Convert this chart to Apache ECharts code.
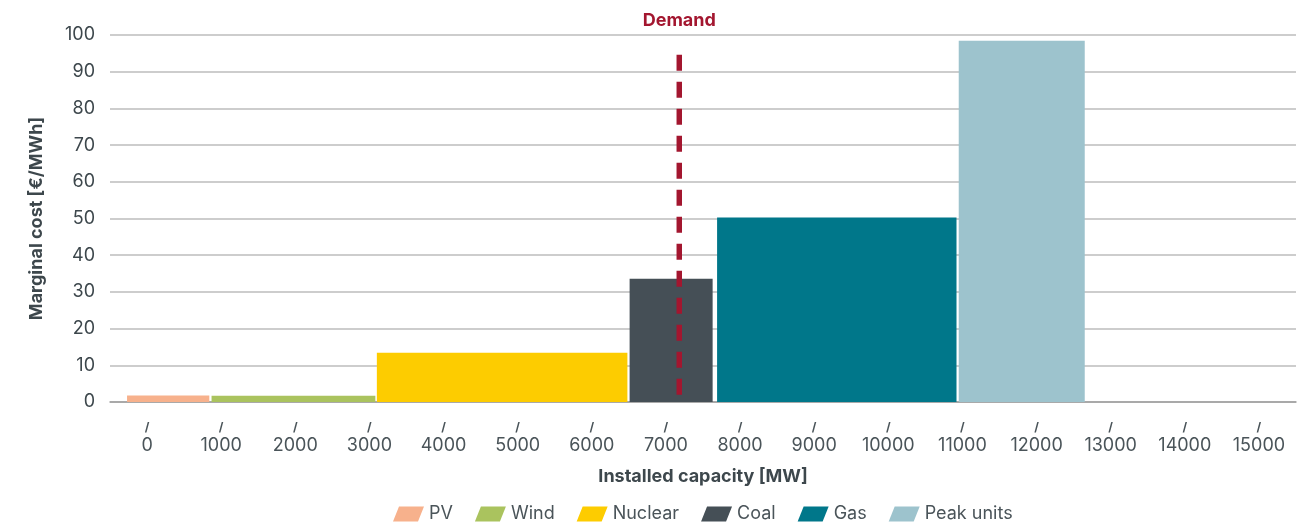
<!DOCTYPE html>
<html>
<head>
<meta charset="utf-8">
<script src="https://cdn.jsdelivr.net/npm/echarts@6/dist/echarts.min.js"></script>
<style>
html,body{margin:0;padding:0;background:#fff;}
#chart{width:1312px;height:525px;}
</style>
</head>
<body>
<div id="chart"></div>
<script>
// Data
const technologies = ['PV', 'Wind', 'Nuclear', 'Coal', 'Gas', 'Peak units'];
const blockStart = [-270, 870, 3100, 6510, 7690, 10950];   // MW (left edge as drawn)
const blockEnd   = [840, 3080, 6480, 7630, 10920, 12650];  // MW (right edge as drawn)
const marginalCost = [1.8, 1.7, 13.4, 33.6, 50.3, 98.4];   // €/MWh
const demandMW = 7180;
const demandTop = 94.6;
const demandBottom = 0.6;
const xTickLabels = ['0','1000','2000','3000','4000','5000','6000','7000','8000','9000','10000','11000','12000','13000','14000','15000'];

const colors = ['#f7b18c', '#aac35e', '#fdcc00', '#454f56', '#00778a', '#9dc3cd'];
const textColor = '#4a5459';
const titleColor = '#3d474c';
const demandColor = '#a3162f';
const FONT = 'Inter';

const chart = echarts.init(document.getElementById('chart'), null, {renderer: 'canvas'});

const blockSeries = technologies.map((name, i) => ({
  name: name,
  type: 'custom',
  xAxisIndex: 0,
  yAxisIndex: 0,
  encode: {x: [0, 1], y: 2},
  data: [[blockStart[i], blockEnd[i], marginalCost[i]]],
  itemStyle: {color: colors[i]},
  renderItem: function (params, api) {
    const p0 = api.coord([api.value(0), api.value(2)]);
    const p1 = api.coord([api.value(1), 0]);
    return {
      type: 'rect',
      shape: {x: p0[0], y: p0[1], width: p1[0] - p0[0], height: p1[1] - p0[1]},
      style: {fill: colors[i]}
    };
  },
  z: 3
}));

const option = {
  animation: false,
  textStyle: {fontFamily: FONT},
  grid: {left: 110, right: 16, top: 35, bottom: 123, containLabel: false},
  legend: {
    data: technologies,
    top: 500,
    left: 388,
    padding: [5, 5, 5, 5],
    icon: 'path://M6,0 L31,0 L25,15 L0,15 Z',
    itemWidth: 31,
    itemHeight: 15,
    itemGap: 22,
    textStyle: {fontFamily: FONT, fontSize: 18, color: textColor, padding: [0, 0, 0, 0]}
  },
  xAxis: [
    {
      type: 'value', min: -500, max: 15500, show: false,
      splitLine: {show: false}
    },
    {
      type: 'category',
      data: xTickLabels,
      boundaryGap: true,
      position: 'bottom',
      axisLine: {show: true, lineStyle: {color: '#9d9d9d', width: 1.5}},
      axisTick: {show: false},
      axisLabel: {
        margin: 17,
        interval: 0,
        formatter: v => '{s|/}\n{v|' + v + '}',
        rich: {
          s: {fontFamily: FONT, fontSize: 12, fontWeight: 'bold', color: textColor, lineHeight: 16, align: 'center'},
          v: {fontFamily: FONT, fontSize: 18, color: textColor, lineHeight: 22, align: 'center'}
        }
      },
      name: 'Installed capacity [MW]',
      nameLocation: 'middle',
      nameGap: 66,
      nameTextStyle: {fontFamily: FONT, fontSize: 18, fontWeight: 'bold', color: titleColor}
    }
  ],
  yAxis: {
    type: 'value', min: 0, max: 100, interval: 10,
    axisLine: {show: false},
    axisTick: {show: false},
    splitLine: {lineStyle: {color: '#bcbcbc', width: 1.5}},
    axisLabel: {margin: 15, fontFamily: FONT, fontSize: 18, color: titleColor},
    name: 'Marginal cost [€/MWh]',
    nameLocation: 'middle',
    nameGap: 64,
    nameRotate: 90,
    nameTextStyle: {fontFamily: FONT, fontSize: 18, fontWeight: 'bold', color: titleColor}
  },
  series: blockSeries.concat([{
    name: 'Demand',
    type: 'line',
    xAxisIndex: 0,
    yAxisIndex: 0,
    data: [
      {value: [demandMW, demandTop], label: {show: true, position: 'top', distance: 25, formatter: 'Demand',
        fontFamily: FONT, fontSize: 18, fontWeight: 'bold', color: demandColor}},
      {value: [demandMW, demandBottom]}
    ],
    symbol: 'circle',
    symbolSize: 0.1,
    itemStyle: {color: demandColor},
    lineStyle: {color: demandColor, width: 5.5, type: [16, 11], cap: 'butt'},
    z: 5,
    silent: true
  }])
};
chart.setOption(option);
</script>
</body>
</html>
